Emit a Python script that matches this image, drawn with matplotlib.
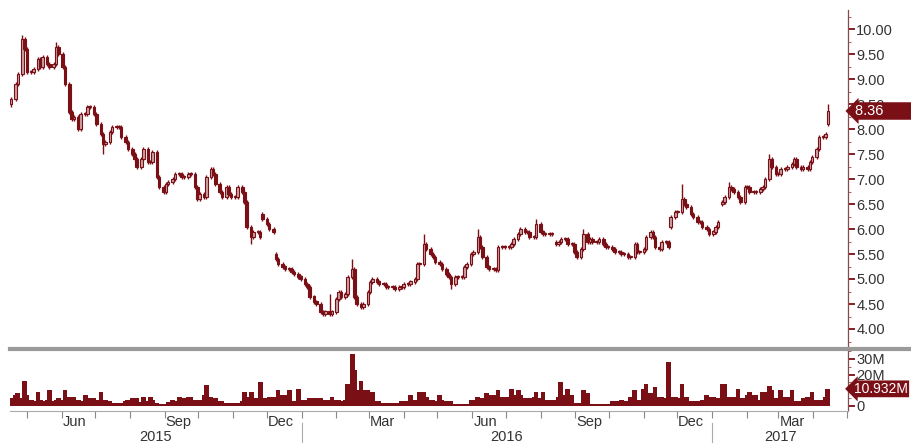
import numpy as np
import pandas as pd
import matplotlib
matplotlib.use('Agg')
import matplotlib.pyplot as plt
import matplotlib.dates as mdates
from matplotlib.transforms import blended_transform_factory
from matplotlib.lines import Line2D

# ---------------- data ----------------
close = [
    8.6, 8.9, 9.1, 9.8, 9.6, 9.15, 9.15, 9.2, 9.4, 9.25,
    9.45, 9.3, 9.25, 9.3, 9.65, 9.5, 9.25, 8.9, 8.35, 8.2,
    8.25, 8.0, 8.3, 8.3, 8.45, 8.45, 8.3, 8.1, 7.9, 7.7,
    7.75, 7.95, 8.05, 8.05, 8.05, 7.85, 7.75, 7.6, 7.5, 7.4,
    7.25, 7.4, 7.6, 7.35, 7.35, 7.55, 7.05, 6.85, 6.75, 6.9,
    6.95, 7.0, 7.1, 7.1, 7.05, 7.05, 7.1, 7.1, 6.85, 6.6,
    6.7, 6.65, 7.05, 7.2, 7.1, 6.9, 6.75, 6.65, 6.85, 6.7,
    6.65, 6.65, 6.85, 6.75, 6.55, 6.05, 5.85, 5.95, 5.95, 5.85,
    6.2, 6.1, 6.0, 5.95, 5.4, 5.3, 5.25, 5.2, 5.2, 5.15,
    5.1, 5.05, 5.0, 4.9, 4.85, 4.65, 4.55, 4.5, 4.35, 4.3,
    4.35, 4.3, 4.35, 4.6, 4.75, 4.65, 4.7, 5.05, 5.2, 4.65,
    4.5, 4.45, 4.5, 4.75, 4.95, 5.0, 4.95, 4.9, 4.9, 4.85,
    4.85, 4.85, 4.8, 4.85, 4.85, 4.9, 4.9, 4.95, 5.0, 5.3,
    5.3, 5.7, 5.6, 5.5, 5.45, 5.35, 5.3, 5.2, 5.1, 5.05,
    4.9, 5.05, 5.05, 5.05, 5.25, 5.3, 5.5, 5.55, 5.85, 5.65,
    5.45, 5.25, 5.2, 5.2, 5.18, 5.65, 5.65, 5.65, 5.65, 5.7,
    5.8, 5.9, 6.0, 5.95, 5.95, 5.85, 5.85, 6.1, 5.95, 5.9,
    5.9, 5.9, 5.9, 5.7, 5.75, 5.8, 5.8, 5.7, 5.7, 5.55,
    5.45, 5.6, 5.9, 5.75, 5.8, 5.75, 5.75, 5.8, 5.7, 5.65,
    5.65, 5.6, 5.55, 5.55, 5.5, 5.5, 5.45, 5.45, 5.7, 5.55,
    5.55, 5.6, 5.85, 5.95, 5.85, 5.65, 5.6, 5.75, 5.75, 5.65,
    6.25, 6.35, 6.35, 6.6, 6.5, 6.45, 6.3, 6.25, 6.15, 6.15,
    6.05, 6.0, 5.9, 5.95, 6.05, 6.15, 6.55, 6.65, 6.85, 6.8,
    6.75, 6.65, 6.55, 6.85, 6.85, 6.75, 6.75, 6.75, 6.8, 6.85,
    7.0, 7.4, 7.25, 7.1, 7.1, 7.2, 7.2, 7.25, 7.3, 7.4,
    7.25, 7.2, 7.25, 7.2, 7.35, 7.45, 7.6, 7.85, 7.85, 7.9,
    8.36,
]

volume_m = [
    5, 7, 8, 5, 16, 7, 4, 3, 9, 4,
    3, 4, 10, 3, 4, 5, 4, 10, 6, 5,
    6, 4, 3, 7, 4, 5, 5, 4, 9, 4,
    4, 3, 2, 2, 2, 2, 3, 4, 5, 3,
    5, 2.5, 6, 3, 6, 4, 2, 1.5, 1, 1.5,
    2.5, 4, 3, 6, 3, 5, 6, 6, 4, 4,
    4, 7, 13.5, 6, 5, 5, 3, 3, 2, 2,
    2, 2, 2, 3, 9, 6, 9, 5, 5, 15,
    5, 5, 6, 6, 6, 10, 7, 7, 10, 3,
    3, 11, 4, 4, 4, 5, 5, 5, 5, 4,
    4, 4, 6, 3.5, 3.5, 3, 3.5, 14, 33, 23,
    10, 16, 10, 10, 9, 9, 3, 3, 2, 2,
    2, 2, 2, 2, 3, 3, 3, 7, 4, 4,
    9, 9, 6, 4, 4, 3, 7, 4, 3, 3,
    3, 1.5, 1.5, 1.5, 1, 1.5, 3.5, 3.5, 6, 5,
    5, 8, 7, 7, 7, 10, 6, 6, 6, 11,
    7, 10, 7, 5, 5, 5, 6, 9, 5, 9,
    4, 4, 4, 4, 6, 15, 7, 11, 7, 2,
    2, 2, 10, 8, 1.5, 1.5, 1.5, 1.5, 1.5, 1.5,
    1.5, 3, 3, 3, 4, 3, 3, 6, 10, 4,
    4, 11, 14, 8, 8, 12, 6, 6, 5, 28,
    6, 6, 5, 14, 6, 6, 3, 3, 3, 3,
    4, 7, 6, 6, 5, 5, 14, 14, 6, 6,
    6, 11, 5, 5, 7, 9, 7, 7, 4, 9,
    9, 13, 10, 5, 5, 10, 6, 6, 10, 3,
    3, 3, 5, 6, 5, 9, 4, 4, 4, 6,
    10.932,
]

# opens that gap away from the previous close
open_gaps = {0: 8.5, 80: 6.3, 84: 5.5, 173: 5.75, 210: 6.05, 226: 6.5, 260: 8.1}
# notable wick extremes
high_marks = {3: 9.88, 14: 9.75, 101: 4.7, 108: 5.4, 131: 5.9, 148: 6.0,
              167: 6.2, 182: 6.0, 213: 6.9, 228: 6.95, 241: 7.5, 260: 8.5}
low_marks = {0: 8.45, 29: 7.5, 76: 5.7, 140: 4.8}

last_price_label = '8.36'
last_volume_label = '10.932M'
price_ticks = [4.0, 4.5, 5.0, 5.5, 6.0, 6.5, 7.0, 7.5, 8.0, 8.5, 9.0, 9.5, 10.0]
volume_ticks = [0, 10, 20, 30]
volume_tick_labels = ['0', '', '20M', '30M']   # 10M sits under the value tag
label_months = [6, 9, 12, 3]
month_names = {6: 'Jun', 9: 'Sep', 12: 'Dec', 3: 'Mar'}
years = [2015, 2016, 2017]

# ---------------- build ----------------
DR = '#7a0f16'
UPFACE = '#c9a3a5'
TXT = '#333333'
plt.rcParams['font.family'] = ['Liberation Sans', 'DejaVu Sans']

n = len(close)
dates = pd.bdate_range(start='2015-04-17', periods=n, freq='2B')
x = mdates.date2num(dates.to_pydatetime())

opens = []
for i in range(n):
    if i in open_gaps:
        opens.append(open_gaps[i])
    else:
        opens.append(close[i - 1])
opens = np.array(opens)
cl = np.array(close)
highs = np.maximum(opens, cl) + 0.04
lows = np.minimum(opens, cl) - 0.04
for k, v in high_marks.items():
    highs[k] = v
for k, v in low_marks.items():
    lows[k] = v

fig = plt.figure(figsize=(9.12, 4.43), dpi=100)
fig.patch.set_facecolor('white')
axp = fig.add_axes([10 / 912, (443 - 347) / 443, 838 / 912, 337 / 443])
axv = fig.add_axes([10 / 912, (443 - 411) / 443, 838 / 912, 61 / 443], sharex=axp)

# candles
up = cl >= opens
faces = [UPFACE if u else DR for u in up]
axp.vlines(x, lows, highs, color=DR, linewidth=1.0, zorder=2)
body_b = np.minimum(opens, cl)
body_h = np.maximum(np.abs(cl - opens), 0.02)
axp.bar(x, body_h, bottom=body_b, width=2.3, color=faces, edgecolor=DR,
        linewidth=0.8, zorder=3)

# volume
axv.bar(x, volume_m, width=4.2, color=DR, linewidth=0, align='center')

xmin = mdates.date2num(pd.Timestamp('2015-04-16'))
xmax = mdates.date2num(pd.Timestamp('2017-05-02'))
axp.set_xlim(xmin, xmax)
axp.set_ylim(3.64, 10.38)
axv.set_ylim(-3.2, 35.7)

for ax in (axp, axv):
    for s in ('left', 'top'):
        ax.spines[s].set_visible(False)
    ax.spines['right'].set_color('#8a4a4a')
    ax.spines['right'].set_linewidth(0.9)
    ax.yaxis.tick_right()
axp.spines['bottom'].set_visible(False)
axv.spines['bottom'].set_color('#aaaaaa')
axv.spines['bottom'].set_linewidth(0.8)

axp.set_yticks(price_ticks)
axp.set_yticklabels(['%.2f' % v for v in price_ticks])
axp.set_yticks(np.arange(3.75, 10.4, 0.25), minor=True)
axp.tick_params(axis='y', which='major', direction='out', color=DR, length=5,
                width=1.3, labelsize=10.5, labelcolor=TXT, pad=1)
axp.tick_params(axis='y', which='minor', direction='out', color='#9a6a6a',
                length=2.5, width=0.7)
axp.tick_params(axis='x', which='both', bottom=False, labelbottom=False)

axv.set_yticks(volume_ticks)
axv.set_yticklabels(volume_tick_labels)
axv.set_yticks([5, 15, 25, 35], minor=True)
axv.tick_params(axis='y', which='major', direction='out', color=DR, length=5,
                width=1.3, labelsize=10.5, labelcolor=TXT, pad=1)
axv.tick_params(axis='y', which='minor', direction='out', color='#9a6a6a',
                length=2.5, width=0.7)

# month ticks
month_starts = pd.date_range('2015-05-01', '2017-05-01', freq='MS')
axv.set_xticks(mdates.date2num(month_starts.to_pydatetime()))
axv.set_xticklabels([''] * len(month_starts))
axv.tick_params(axis='x', which='major', direction='out', color='#888888',
                length=5, width=0.8)
axv.set_xlim(xmin, xmax)

tr = blended_transform_factory(axv.transData, axv.transAxes)
for ms in month_starts:
    if ms.month in label_months:
        mid = mdates.date2num(ms + pd.Timedelta(days=12))
        axv.text(mid, -0.18, month_names[ms.month], transform=tr, ha='center',
                 va='center', fontsize=10.5, color=TXT, clip_on=False)

for yr in years:
    a = max(xmin, mdates.date2num(pd.Timestamp(f'{yr}-01-01')))
    b = min(xmax, mdates.date2num(pd.Timestamp(f'{yr + 1}-01-01')))
    axv.text((a + b) / 2, -0.42, str(yr), transform=tr, ha='center', va='center',
             fontsize=10.5, color=TXT, clip_on=False)
    if yr > years[0]:
        axv.add_line(Line2D([a, a], [-0.2, -0.55], transform=tr, color='#aaaaaa',
                            linewidth=0.8, clip_on=False))

# separator between panels
fig.add_artist(Line2D([10 / 912, 1.0], [(443 - 348.5) / 443] * 2, color='#9a9a9a',
                      linewidth=3, transform=fig.transFigure))

# last-value tags
trp = blended_transform_factory(axp.transAxes, axp.transData)
axp.text(1.008, close[-1], last_price_label + '       ', transform=trp,
         ha='left', va='center', color='white', fontsize=10.5, clip_on=False,
         bbox=dict(boxstyle='larrow,pad=0.12', fc=DR, ec='none'), zorder=5)
trv = blended_transform_factory(axv.transAxes, axv.transData)
axv.text(1.007, volume_m[-1], last_volume_label, transform=trv,
         ha='left', va='center', color='white', fontsize=10, clip_on=False,
         bbox=dict(boxstyle='larrow,pad=0.1', fc=DR, ec='none'), zorder=5)

fig.savefig('out.png', dpi=100, facecolor='white')
